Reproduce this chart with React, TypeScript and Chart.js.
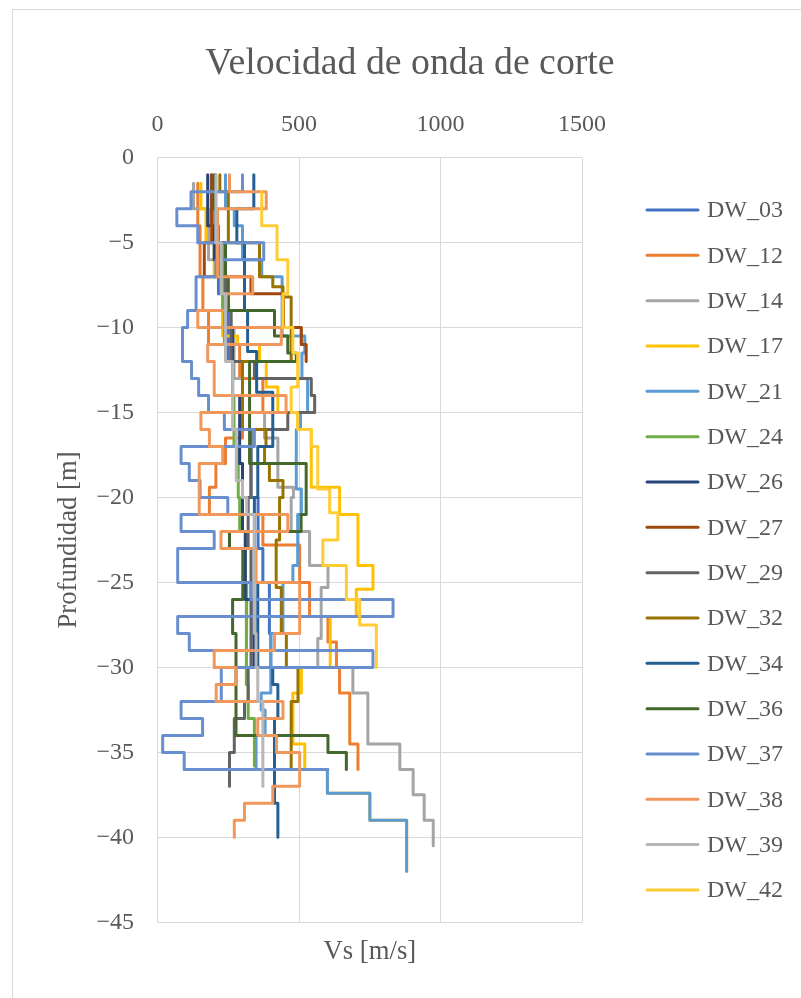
import React, { useEffect, useRef } from "react";
import { Chart, registerables } from "chart.js";

Chart.register(...registerables);

// ---------------- data ----------------
const TITLE = "Velocidad de onda de corte";
const X_TITLE = "Vs [m/s]";
const Y_TITLE = "Profundidad [m]";
const X_TICKS = [0, 500, 1000, 1500];
const Y_TICKS = [0, -5, -10, -15, -20, -25, -30, -35, -40, -45];

const seriesNames = [
  "DW_03", "DW_12", "DW_14", "DW_17", "DW_21", "DW_24", "DW_26", "DW_27",
  "DW_29", "DW_32", "DW_34", "DW_36", "DW_37", "DW_38", "DW_39", "DW_42",
];
const seriesColors = [
  "#4472C4", "#ED7D31", "#A5A5A5", "#FFC000", "#5B9BD5", "#70AD47", "#264478", "#9E480E",
  "#636363", "#997300", "#255E91", "#43682B", "#698ED0", "#F1975A", "#B7B7B7", "#FFCD33",
];

// layer boundaries (depth, m) and shear-wave velocity of each layer (m/s)
const DW_03_depth = [1, 4, 8, 12, 16, 20, 23, 25, 28, 30];
const DW_03_vs = [190, 215, 250, 300, 330, 355, 372, 395, 400];

const DW_12_depth = [1.5, 4, 7, 9, 11, 13, 15, 16.5, 18, 19.4, 21, 22.8, 25, 27, 28.5, 30, 31.5, 34.5, 36];
const DW_12_vs = [142, 150, 160, 180, 290, 372, 300, 240, 206, 183, 372, 502, 537, 602, 632, 643, 679, 708];

const DW_14_depth = [1.5, 3, 6, 10, 13, 15, 16.5, 19.4, 20, 22, 24, 25.3, 28.3, 30, 31.5, 34.5, 36, 37.5, 39, 40.5];
const DW_14_vs = [127, 180, 230, 270, 300, 378, 425, 480, 472, 537, 602, 578, 566, 690, 743, 856, 903, 942, 974];

const DW_17_depth = [1.5, 3, 5, 7, 10.5, 11, 12, 13.5, 15, 16, 19.4, 21, 24, 25.4, 27, 30, 31.5, 34.5, 36, 37.4, 39, 42];
const DW_17_vs = [153, 171, 200, 230, 283, 360, 384, 425, 495, 543, 643, 708, 761, 702, 610, 508, 478, 520, 600, 750, 880];

const DW_21_depth = [1, 3, 4, 6, 7, 10.5, 11.5, 13, 15, 16, 19.5, 21, 24, 25, 28, 31.5, 32.5, 34, 36, 37.4, 39, 42];
const DW_21_vs = [240, 271, 300, 368, 440, 520, 510, 530, 505, 490, 508, 495, 478, 443, 400, 366, 380, 348, 600, 750, 880];

const DW_24_depth = [2, 5, 9, 11, 14, 17, 20, 22, 25, 28, 31, 33, 35.8];
const DW_24_vs = [195, 230, 236, 265, 270, 285, 290, 310, 315, 313, 320, 342];

const DW_26_depth = [1, 4, 6, 10, 14, 18, 22, 26, 30];
const DW_26_vs = [177, 200, 240, 265, 290, 300, 310, 340];

const DW_27_depth = [1, 5, 7, 8, 10, 11, 12];
const DW_27_vs = [191, 165, 330, 445, 508, 525];

const DW_29_depth = [1, 5, 9, 12, 13, 14, 15, 16, 20, 23, 30, 32, 33, 35, 37];
const DW_29_vs = [205, 240, 260, 342, 543, 555, 460, 330, 320, 330, 320, 307, 271, 254];

const DW_32_depth = [1, 2, 5, 7, 7.6, 8.2, 12, 16, 17, 18, 19, 20, 22.5, 25.3, 28, 30, 32, 36];
const DW_32_vs = [220, 250, 360, 407, 443, 472, 300, 383, 378, 395, 443, 431, 419, 437, 455, 496, 472];

const DW_34_depth = [1, 3, 5, 9, 11.4, 13.8, 17, 20, 25, 28, 30, 31, 33, 38, 40];
const DW_34_vs = [340, 280, 307, 318, 350, 407, 354, 342, 354, 354, 407, 425, 413, 425];

const DW_36_depth = [1, 3, 5, 7, 9, 10.5, 11.5, 12, 18, 21, 22, 23, 26, 28, 34, 35, 36];
const DW_36_vs = [200, 210, 240, 250, 413, 460, 490, 325, 525, 507, 254, 301, 265, 277, 602, 667];

const DW_37_depth = [1, 2, 3, 4, 5, 6, 7, 9, 10, 12, 13, 14, 15, 16, 17, 18, 19, 20, 21, 22, 23, 25, 26, 27, 28, 29, 30, 32, 33, 34, 35, 36, 36];
const DW_37_vs = [300, 118, 68, 142, 375, 206, 136, 106, 88, 120, 145, 180, 236, 342, 83, 112, 150, 248, 83, 200, 71, 330, 832, 71, 112, 761, 225, 83, 159, 18, 94, 602];

const DW_38_depth = [1, 2, 3, 7, 8, 9, 10, 11, 12, 14, 15, 16, 17, 18, 21, 22, 23, 25, 28, 29, 30, 31, 32, 33, 34, 35, 37, 38, 39, 40];
const DW_38_vs = [254, 384, 212, 336, 242, 142, 437, 177, 200, 454, 153, 183, 230, 147, 460, 224, 348, 502, 413, 200, 277, 207, 443, 354, 420, 502, 407, 307, 271];

const DW_39_depth = [1, 5, 8, 12, 16, 19, 20, 21, 28, 30, 32, 37];
const DW_39_vs = [206, 225, 240, 265, 278, 300, 315, 342, 348, 354, 372];

const DW_42_depth = [2, 4, 6, 8, 10, 11.5, 13.5, 15, 16, 17, 19.5, 20.9, 22.5, 24, 26, 27.5, 30];
const DW_42_vs = [368, 422, 460, 443, 478, 495, 472, 495, 543, 566, 608, 637, 584, 667, 714, 773];

const seriesDepths = [
  DW_03_depth, DW_12_depth, DW_14_depth, DW_17_depth, DW_21_depth, DW_24_depth, DW_26_depth, DW_27_depth,
  DW_29_depth, DW_32_depth, DW_34_depth, DW_36_depth, DW_37_depth, DW_38_depth, DW_39_depth, DW_42_depth,
];
const seriesVs = [
  DW_03_vs, DW_12_vs, DW_14_vs, DW_17_vs, DW_21_vs, DW_24_vs, DW_26_vs, DW_27_vs,
  DW_29_vs, DW_32_vs, DW_34_vs, DW_36_vs, DW_37_vs, DW_38_vs, DW_39_vs, DW_42_vs,
];

// ---------------- helpers ----------------
function stepPoints(depths: number[], vs: number[]) {
  const pts: { x: number; y: number }[] = [];
  for (let i = 0; i < vs.length; i++) {
    pts.push({ x: vs[i], y: -depths[i] });
    pts.push({ x: vs[i], y: -depths[i + 1] });
  }
  return pts;
}

const FONT = "'Liberation Serif', 'Times New Roman', serif";
const TEXT = "#595959";
const GRID = "#d9d9d9";

const frameTitleLegend = {
  id: "frameTitleLegend",
  beforeDraw(chart: any) {
    const ctx = chart.ctx;
    ctx.save();
    ctx.fillStyle = "#ffffff";
    ctx.fillRect(0, 0, chart.width, chart.height);
    ctx.strokeStyle = GRID;
    ctx.lineWidth = 1;
    ctx.strokeRect(12.5, 9.5, 820, 1020);
    ctx.restore();
  },
  afterDraw(chart: any) {
    const ctx = chart.ctx;
    ctx.save();
    // chart title
    ctx.font = `37.8px ${FONT}`;
    ctx.fillStyle = TEXT;
    ctx.textAlign = "center";
    ctx.textBaseline = "middle";
    ctx.fillText(TITLE, 410, 64);
    // legend
    const ds = chart.data.datasets;
    const y0 = 210;
    const step = 45.33;
    ctx.font = `24px ${FONT}`;
    ctx.textBaseline = "middle";
    ctx.textAlign = "left";
    for (let i = 0; i < ds.length; i++) {
      const y = y0 + i * step;
      ctx.strokeStyle = ds[i].borderColor;
      ctx.lineWidth = 3;
      ctx.lineCap = "round";
      ctx.beginPath();
      ctx.moveTo(647, y);
      ctx.lineTo(698, y);
      ctx.stroke();
      ctx.fillStyle = TEXT;
      ctx.fillText(ds[i].label, 707, y + 1);
    }
    ctx.restore();
  },
};

export default function App() {
  const ref = useRef<HTMLCanvasElement | null>(null);

  useEffect(() => {
    if (!ref.current) return;
    const datasets = seriesNames.map((name, i) => ({
      label: name,
      data: stepPoints(seriesDepths[i], seriesVs[i]),
      showLine: true,
      borderColor: seriesColors[i],
      backgroundColor: seriesColors[i],
      borderWidth: 3,
      pointRadius: 0,
      pointHoverRadius: 0,
      fill: false,
      tension: 0,
      borderCapStyle: "round" as const,
      borderJoinStyle: "round" as const,
      order: seriesNames.length - 1 - i,
    }));

    const chart = new Chart(ref.current, {
      type: "scatter",
      data: { datasets },
      options: {
        responsive: false,
        animation: false,
        events: [],
        layout: { padding: { left: 0, right: 218.9, top: 96.4, bottom: 0 } },
        plugins: {
          legend: { display: false },
          tooltip: { enabled: false },
          title: { display: false },
        },
        scales: {
          x: {
            type: "linear",
            position: "top",
            min: 0,
            max: 1500,
            afterBuildTicks: (s: any) => {
              s.ticks = X_TICKS.map((v) => ({ value: v }));
            },
            ticks: {
              color: TEXT,
              font: { family: FONT, size: 24 },
              padding: 18.3,
              maxRotation: 0,
              callback: (v: any) => String(v),
            },
            grid: { color: GRID, lineWidth: 1, drawTicks: false },
            border: { display: false },
            afterFit: (s: any) => {
              s.height = 157.7 - 96.4;
            },
          },
          x2: {
            type: "linear",
            position: "bottom",
            min: 0,
            max: 1500,
            ticks: { display: false },
            grid: { display: false, drawTicks: false },
            border: { display: false },
            title: {
              display: true,
              text: X_TITLE,
              color: TEXT,
              font: { family: FONT, size: 26.7 },
              padding: { top: 0, bottom: 30.3 },
            },
            afterFit: (s: any) => {
              s.height = 998 - 922.3;
            },
          },
          y: {
            type: "linear",
            min: -45,
            max: 0,
            afterBuildTicks: (s: any) => {
              s.ticks = Y_TICKS.map((v) => ({ value: v }));
            },
            ticks: {
              color: TEXT,
              font: { family: FONT, size: 24 },
              padding: 23.5,
              callback: (v: any) => (Number(v) < 0 ? "\u2212" + Math.abs(Number(v)) : String(v)),
            },
            grid: { color: GRID, lineWidth: 1, drawTicks: false },
            border: { display: true, color: GRID },
            title: {
              display: true,
              text: Y_TITLE,
              color: TEXT,
              font: { family: FONT, size: 26.7 },
              padding: { top: 53, bottom: 0 },
            },
            afterFit: (s: any) => {
              s.width = 157.6;
            },
          },
        },
      },
      plugins: [frameTitleLegend],
    } as any);

    return () => chart.destroy();
  }, []);

  return (
    <div style={{ position: "absolute", left: 0, top: 0, width: 801, height: 998, background: "#fff" }}>
      <canvas ref={ref} width={801} height={998} style={{ display: "block", width: 801, height: 998 }} />
    </div>
  );
}
